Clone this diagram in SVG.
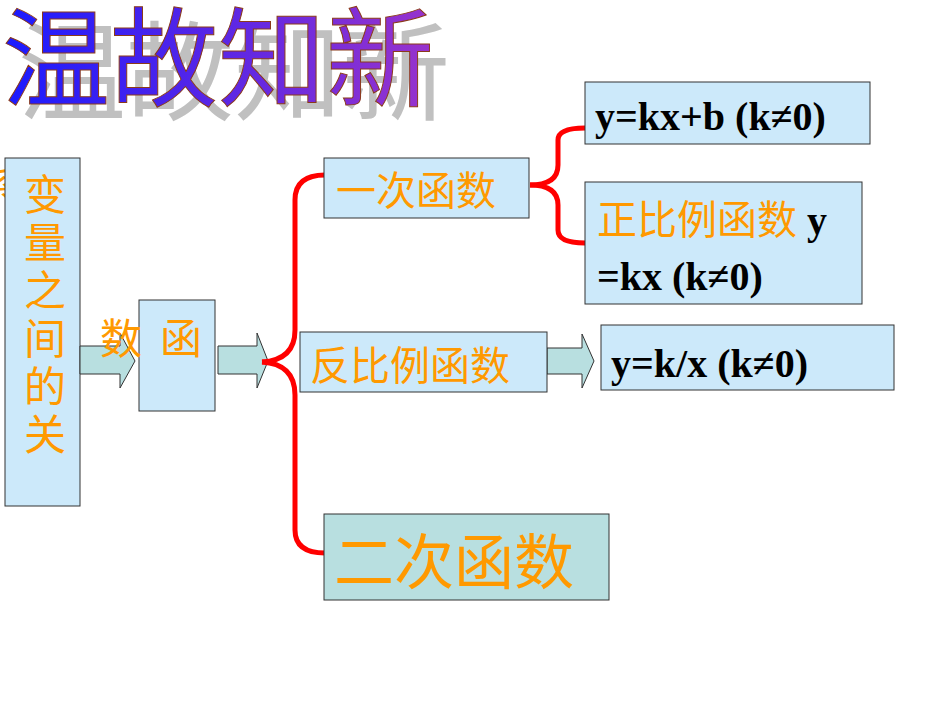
<svg xmlns="http://www.w3.org/2000/svg" width="950" height="713" viewBox="0 0 950 713">
<defs>
<linearGradient id="tg" x1="0" y1="0" x2="1" y2="0"><stop offset="0" stop-color="#1a1aff"/><stop offset="1" stop-color="#9933cc"/></linearGradient>
<style>
.box{fill:#cce9fa;stroke:#333;stroke-width:1}
.arr{fill:#b8dfe0;stroke:#333;stroke-width:1}
.cn{font-family:"Liberation Serif","Noto Sans CJK SC",serif;fill:#ff9900}
.en{font-family:"Liberation Serif","Noto Sans CJK SC",serif;font-weight:bold;fill:#000}
.br{fill:none;stroke:#ff0000;stroke-width:5}
</style>
</defs>
<g id="title" font-family="'Noto Sans CJK SC',serif" font-size="108">
<text x="18" y="112" fill="#c0c0c0">温故知新</text>
<text x="2" y="98" fill="url(#tg)" stroke="#8b3a1a" stroke-width="1">温故知新</text>
</g>
<g id="left">
<text class="cn" x="-24" y="202" font-size="40">系</text>
<rect class="box" x="5" y="158" width="75" height="348"/>
<g class="cn" font-size="42" text-anchor="middle">
<text x="45" y="210">变</text><text x="45" y="258">量</text><text x="45" y="306">之</text><text x="45" y="354">间</text><text x="45" y="402">的</text><text x="45" y="450">关</text>
</g>
</g>
<g id="connectors">
<path class="arr" d="M80,346 H120 V333 L135,361 L120,388 V374 H80 Z"/>
<path class="arr" d="M218,346 H257 V333 L268,361 L257,388 V374 H218 Z"/>
<path class="arr" d="M547,348 H582 V334 L594,361 L582,388 V374 H547 Z"/>
<path class="br" d="M262,362 Q295,360 295,330 V200 Q295,175 325,175"/>
<path class="br" d="M262,362 Q295,364 295,395 V530 Q295,553 325,553"/>
<path class="br" d="M530,185 Q558,185 558,165 V140 Q558,128 585,128"/>
<path class="br" d="M530,185 Q558,185 558,205 V230 Q558,243 585,243"/>
</g>
<g id="func">
<rect class="box" x="139" y="300" width="76" height="111"/>
<text class="cn" x="100" y="354" font-size="42">数</text>
<text class="cn" x="160" y="354" font-size="42">函</text>
</g>
<g id="linear"><rect class="box" x="324" y="158" width="205" height="60"/><text class="cn" x="336" y="205" font-size="40">一次函数</text></g>
<g id="linear-formula"><rect class="box" x="585" y="82" width="285" height="62"/><text class="en" x="595" y="130" font-size="40">y=kx+b (k≠0)</text></g>
<g id="direct"><rect class="box" x="585" y="182" width="277" height="122"/>
<text x="597" y="234" font-size="40"><tspan class="cn">正比例函数</tspan><tspan class="en"> y</tspan></text>
<text class="en" x="597" y="290" font-size="40">=kx (k≠0)</text></g>
<g id="inverse"><rect class="box" x="300" y="332" width="247" height="60"/><text class="cn" x="310" y="380" font-size="40">反比例函数</text></g>
<g id="inverse-formula"><rect class="box" x="601" y="325" width="293" height="65"/><text class="en" x="611" y="377" font-size="40">y=k/x (k≠0)</text></g>
<g id="quadratic"><rect x="324" y="514" width="285" height="86" fill="#b8dfe0" stroke="#333"/><text class="cn" x="334" y="584" font-size="60">二次函数</text></g>
</svg>
